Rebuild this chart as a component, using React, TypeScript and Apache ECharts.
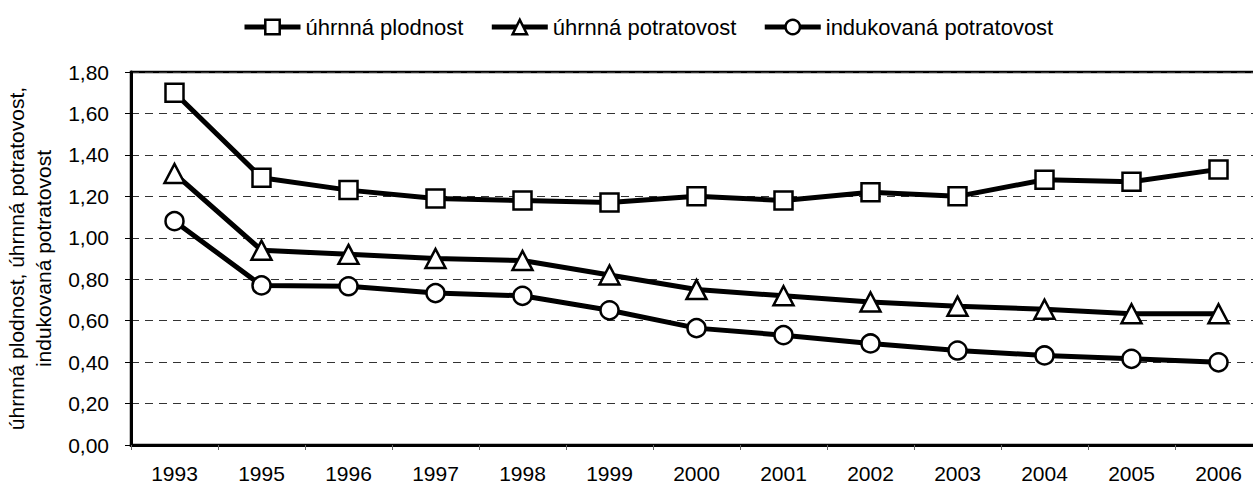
import React, { useEffect, useRef } from "react";
import * as echarts from "echarts";

const years = ["1993", "1995", "1996", "1997", "1998", "1999", "2000", "2001", "2002", "2003", "2004", "2005", "2006"];
const uhrnnaPlodnost = [1.70, 1.29, 1.23, 1.19, 1.18, 1.17, 1.20, 1.18, 1.22, 1.20, 1.28, 1.27, 1.33];
const uhrnnaPotratovost = [1.31, 0.94, 0.92, 0.90, 0.89, 0.82, 0.75, 0.72, 0.69, 0.67, 0.655, 0.633, 0.633];
const indukovanaPotratovost = [1.08, 0.77, 0.766, 0.733, 0.72, 0.65, 0.564, 0.53, 0.49, 0.456, 0.432, 0.416, 0.399];
const seriesNames = ["úhrnná plodnost", "úhrnná potratovost", "indukovaná potratovost"];
const yAxisTitle = "úhrnná plodnost, úhrnná potratovost,\nindukovaná potratovost";

const FONT = "Arial, 'Liberation Sans', sans-serif";
const FS = 21;

export default function App() {
  const ref = useRef<HTMLDivElement>(null);
  useEffect(() => {
    document.body.style.margin = "0";
    const chart = echarts.init(ref.current!, null, { renderer: "svg" });
    const mkSeries = (name: string, data: number[], symbol: string, size: any) => ({
      name,
      type: "line",
      data,
      symbol,
      symbolSize: size,
      showAllSymbol: true,
      lineStyle: { color: "#000", width: 5 },
      itemStyle: { color: "#fff", borderColor: "#000", borderWidth: 2.5 },
      z: 3,
    });
    chart.setOption({
      animation: false,
      backgroundColor: "#fff",
      textStyle: { fontFamily: FONT, color: "#000" },
      legend: {
        top: 11,
        left: 237,
        itemWidth: 56,
        itemHeight: 18,
        itemGap: 26,
        lineStyle: { width: 5, color: "#000" },
        itemStyle: { color: "#fff", borderColor: "#000", borderWidth: 2.5 },
        textStyle: { fontSize: 22, color: "#000", fontFamily: FONT },
        data: seriesNames,
      },
      grid: {
        left: 131,
        right: 8,
        top: 72,
        bottom: 39,
        containLabel: false,
        outerBoundsMode: "none",
        show: true,
        borderColor: "#000",
        borderWidth: 2.5,
        backgroundColor: "transparent",
      },
      xAxis: {
        type: "category",
        data: years,
        boundaryGap: true,
        axisLine: { lineStyle: { color: "#000", width: 3 } },
        axisTick: { show: true, length: 5, lineStyle: { color: "#666", width: 1 } },
        axisLabel: { fontSize: FS, lineHeight: 16, color: "#000", margin: 20, fontFamily: FONT },
      },
      yAxis: {
        type: "value",
        min: 0,
        max: 1.8,
        interval: 0.2,
        name: yAxisTitle,
        nameLocation: "middle",
        nameGap: 60,
        nameTextStyle: { fontSize: FS, color: "#000", lineHeight: 27, fontFamily: FONT, align: "center" },
        axisLine: { show: true, lineStyle: { color: "#000", width: 3 } },
        axisTick: { show: true, length: 6, lineStyle: { color: "#000", width: 1 } },
        axisLabel: {
          fontSize: FS,
          color: "#000",
          margin: 22,
          fontFamily: FONT,
          formatter: (v: number) => v.toFixed(2).replace(".", ","),
        },
        splitLine: { show: true, lineStyle: { color: "#333", width: 1, type: [8, 6] } },
      },
      series: [
        mkSeries(seriesNames[0], uhrnnaPlodnost, "rect", 18),
        mkSeries(seriesNames[1], uhrnnaPotratovost, "triangle", [20, 19]),
        mkSeries(seriesNames[2], indukovanaPotratovost, "circle", 18),
      ],
    });
    return () => chart.dispose();
  }, []);
  return (
    <div style={{ width: 1253, height: 484, position: "absolute", left: 0, top: 0, overflow: "hidden" }}>
      <div ref={ref} style={{ width: 1270, height: 484 }} />
    </div>
  );
}
